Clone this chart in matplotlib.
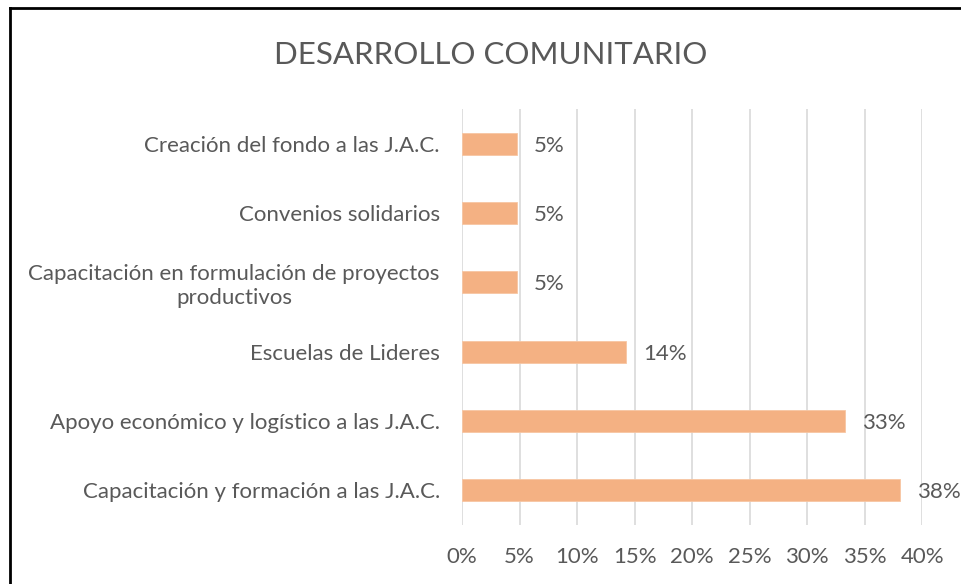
import matplotlib.pyplot as plt
from matplotlib.lines import Line2D

categorias = [
    "Capacitación y formación a las J.A.C.",
    "Apoyo económico y logístico a las J.A.C.",
    "Escuelas de Lideres",
    "Capacitación en formulación de proyectos\nproductivos",
    "Convenios solidarios",
    "Creación del fondo a las J.A.C.",
]
respuestas = [8, 7, 3, 1, 1, 1]
total = 21
porcentajes = [r / total for r in respuestas]
ticks_x = [0, 0.05, 0.10, 0.15, 0.20, 0.25, 0.30, 0.35, 0.40]

gris = "#595959"
plt.rcParams['font.family'] = ['Lato', 'DejaVu Sans']

fig = plt.figure(figsize=(9.61, 5.84), dpi=100)
ax = fig.add_axes([0.4808, 0.1017, 0.4787, 0.711])

y = range(len(categorias))
ax.barh(y, porcentajes, height=0.32, color="#F4B183", edgecolor="#F7C6A3", linewidth=0.6, zorder=3)
for yi, p in zip(y, porcentajes):
    ax.text(p + 0.0145, yi - 0.03, f"{p * 100:.0f}%", va="center", ha="left", fontsize=16, color=gris)

ax.set_xlim(0, 0.40)
ax.set_ylim(-0.5, len(categorias) - 0.5)
ax.set_xticks(ticks_x)
ax.set_xticklabels([f"{t * 100:.0f}%" for t in ticks_x])
ax.set_yticks(list(y))
ax.set_yticklabels(categorias)
for lbl in ax.get_yticklabels():
    lbl.set_multialignment("center")
ax.tick_params(axis="both", length=0, labelsize=16, labelcolor=gris)
ax.tick_params(axis="x", pad=16)
ax.tick_params(axis="y", pad=16)
ax.grid(axis="x", color="#D9D9D9", linewidth=1.2, zorder=0)
for s in ax.spines.values():
    s.set_visible(False)

fig.text(0.511, 0.906, "DESARROLLO COMUNITARIO", ha="center", va="center", fontsize=22.5, color=gris)

# borde del cuadro
fig.add_artist(Line2D([9.5 / 961, 9.5 / 961], [0, 1 - 8 / 584], transform=fig.transFigure, color="black", linewidth=2))
fig.add_artist(Line2D([9.5 / 961, 1], [1 - 8 / 584, 1 - 8 / 584], transform=fig.transFigure, color="black", linewidth=2))

fig.savefig("out.png", dpi=100)
